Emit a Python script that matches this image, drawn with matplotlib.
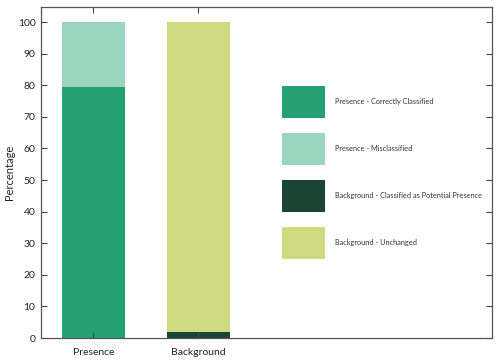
import matplotlib
matplotlib.use("Agg")
import matplotlib.pyplot as plt
from matplotlib.patches import Patch

plt.rcParams['font.family'] = ['Lato', 'DejaVu Sans']

categories = ["Presence", "Background"]
presence_correct = [79.4, 0]
presence_misclassified = [20.6, 0]
background_potential = [0, 2.0]
background_unchanged = [0, 98.0]

labels = ["Presence - Correctly Classified", "Presence - Misclassified",
          "Background - Classified as Potential Presence", "Background - Unchanged"]
colors = ["#24a273", "#9bd5c0", "#1a4434", "#cfda80"]

fig = plt.figure(figsize=(4.97, 3.6), dpi=100)
ax = fig.add_axes([41/497, 1-338/360, (492-41)/497, (338-7)/360])

x = list(range(len(categories)))
w = 0.6
bottom = [0, 0]
series = [presence_correct, presence_misclassified, background_potential, background_unchanged]
for vals, c in zip(series, colors):
    ax.bar(x, vals, width=w, bottom=bottom, color=c, linewidth=0)
    bottom = [b + v for b, v in zip(bottom, vals)]

ax.set_xlim(-0.5, 3.8)
ax.set_ylim(0, 104.8)
ax.set_yticks(range(0, 101, 10))
ax.set_xticks(x)
ax.set_xticklabels(categories)
ax.set_ylabel("Percentage", fontsize=8, color="#222222", labelpad=2)
ax.tick_params(direction='in', top=True, right=True, length=4, width=0.8,
               labelsize=7.5, colors="#444444", labelcolor="#222222", pad=4)
ax.tick_params(axis='x', pad=7)
for s in ax.spines.values():
    s.set_color("#555555")
    s.set_linewidth(0.9)

handles = [Patch(facecolor=c, edgecolor='none') for c in colors]
fig.legend(handles, labels, loc='upper left', bbox_to_anchor=(282/497, 1-86/360),
           bbox_transform=fig.transFigure, frameon=False, fontsize=5.3,
           handlelength=5.84, handleheight=6.31, labelspacing=2.04, handletextpad=1.36,
           borderpad=0, borderaxespad=0, labelcolor="#333333")

fig.savefig("out.png", dpi=100)
